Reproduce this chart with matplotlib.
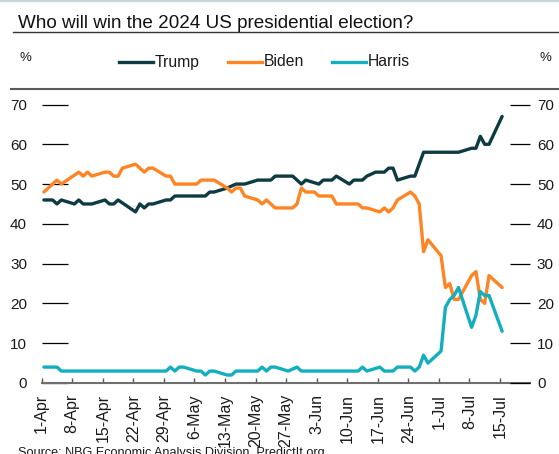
import matplotlib
matplotlib.use("Agg")
import matplotlib.pyplot as plt
from matplotlib.lines import Line2D
import pandas as pd

plt.rcParams['font.family'] = ['Liberation Sans', 'DejaVu Sans']

# PredictIt market prices, % chance of winning (2024)
trump_dates = ["1-Apr", "3-Apr", "4-Apr", "5-Apr", "8-Apr", "9-Apr", "10-Apr", "12-Apr",
               "15-Apr", "16-Apr", "17-Apr", "18-Apr", "22-Apr", "23-Apr", "24-Apr", "25-Apr",
               "26-Apr", "29-Apr", "30-Apr", "1-May", "8-May", "9-May", "10-May", "13-May",
               "15-May", "17-May", "20-May", "23-May", "24-May", "28-May", "30-May", "31-May",
               "3-Jun", "4-Jun", "6-Jun", "7-Jun", "10-Jun", "11-Jun", "13-Jun", "14-Jun",
               "16-Jun", "18-Jun", "19-Jun", "20-Jun", "21-Jun", "24-Jun", "25-Jun", "27-Jun",
               "5-Jul", "8-Jul", "9-Jul", "10-Jul", "11-Jul", "12-Jul", "15-Jul"]
trump_values = [46, 46, 45, 46, 45, 46, 45, 45,
                46, 45, 45, 46, 43, 45, 44, 45,
                45, 46, 46, 47, 47, 48, 48, 49,
                50, 50, 51, 51, 52, 52, 50, 51,
                50, 51, 51, 52, 50, 51, 51, 52,
                53, 53, 54, 54, 51, 52, 52, 58,
                58, 59, 59, 62, 60, 60, 67]

biden_dates = ["1-Apr", "4-Apr", "5-Apr", "9-Apr", "10-Apr", "11-Apr", "12-Apr", "15-Apr",
               "16-Apr", "17-Apr", "18-Apr", "19-Apr", "22-Apr", "24-Apr", "25-Apr", "26-Apr",
               "29-Apr", "30-Apr", "1-May", "6-May", "7-May", "10-May", "13-May", "14-May",
               "15-May", "16-May", "17-May", "20-May", "21-May", "22-May", "24-May", "28-May",
               "29-May", "30-May", "31-May", "2-Jun", "3-Jun", "6-Jun", "7-Jun", "12-Jun",
               "13-Jun", "14-Jun", "17-Jun", "18-Jun", "19-Jun", "20-Jun", "21-Jun", "24-Jun",
               "25-Jun", "26-Jun", "27-Jun", "28-Jun", "1-Jul", "2-Jul", "3-Jul", "4-Jul",
               "5-Jul", "8-Jul", "9-Jul", "10-Jul", "11-Jul", "12-Jul", "15-Jul"]
biden_values = [48, 51, 50, 53, 52, 53, 52, 53,
                53, 52, 52, 54, 55, 53, 54, 54,
                52, 52, 50, 50, 51, 51, 49, 48,
                49, 49, 47, 46, 45, 46, 44, 44,
                45, 49, 48, 48, 47, 47, 45, 45,
                44, 44, 43, 44, 43, 44, 46, 48,
                47, 45, 33, 36, 32, 24, 25, 21,
                21, 27, 28, 21, 20, 27, 24]

harris_dates = ["1-Apr", "4-Apr", "5-Apr", "29-Apr", "30-Apr", "1-May", "2-May", "3-May",
                "6-May", "7-May", "8-May", "9-May", "10-May", "13-May", "14-May", "15-May",
                "20-May", "21-May", "22-May", "23-May", "24-May", "27-May", "29-May", "30-May",
                "12-Jun", "13-Jun", "14-Jun", "17-Jun", "18-Jun", "20-Jun", "21-Jun", "24-Jun",
                "25-Jun", "26-Jun", "27-Jun", "28-Jun", "1-Jul", "2-Jul", "3-Jul", "4-Jul",
                "5-Jul", "8-Jul", "9-Jul", "10-Jul", "11-Jul", "12-Jul", "15-Jul"]
harris_values = [4, 4, 3, 3, 4, 3, 4, 4,
                 3, 3, 2, 3, 3, 2, 2, 3,
                 3, 4, 3, 4, 4, 3, 4, 3,
                 3, 4, 3, 4, 3, 3, 4, 4,
                 3, 4, 7, 5, 8, 19, 21, 22,
                 24, 14, 17, 23, 22, 22, 13]

tick_labels = ["1-Apr", "8-Apr", "15-Apr", "22-Apr", "29-Apr", "6-May", "13-May", "20-May",
               "27-May", "3-Jun", "10-Jun", "17-Jun", "24-Jun", "1-Jul", "8-Jul", "15-Jul"]
y_ticks = [0, 10, 20, 30, 40, 50, 60, 70]

series = [("Trump", trump_dates, trump_values, "#0e3b42"),
          ("Biden", biden_dates, biden_values, "#ff8424"),
          ("Harris", harris_dates, harris_values, "#13aebf")]

START = pd.Timestamp("2024-04-01")


def day_offset(labels):
    d = pd.to_datetime([s + "-2024" for s in labels], format="%d-%b-%Y")
    return [(x - START).days for x in d]


W, H = 559, 454
fig = plt.figure(figsize=(W / 100, H / 100), dpi=100)


def fx(px):
    return px / W


def fy(py):
    return 1 - py / H


# plot area
left_px, right_px, bottom_px, top_px = 41.7, 530.0, 383.0, 104.5
ax = fig.add_axes([fx(left_px), fy(bottom_px), fx(right_px - left_px), (bottom_px - top_px) / H])
day_px = 30.55 / 7
xmin = -0.5
xmax = xmin + (right_px - left_px) / day_px
ax.set_xlim(xmin, xmax)
ax.set_ylim(0, 70)

for name, dates, vals, col in series:
    ax.plot(day_offset(dates), vals, color=col, lw=2.4, solid_joinstyle="round",
            solid_capstyle="round", label=name, clip_on=False, zorder=3)

# axes styling
for s in ("left", "right", "top"):
    ax.spines[s].set_visible(False)
ax.spines["bottom"].set_color("#6f6f6f")
ax.spines["bottom"].set_linewidth(1.5)

tick_pos = [d - 0.5 for d in day_offset(tick_labels)]
ax.set_xticks(tick_pos)
ax.set_xticklabels(tick_labels, rotation=90, fontsize=11.5, color="#1a1a1a")
ax.tick_params(axis="x", direction="in", length=3.8, width=1.0, color="#555555", pad=8)

# left value axis: long inward ticks
ax.set_yticks(y_ticks)
ax.set_yticklabels([str(v) for v in y_ticks], fontsize=11, color="#1a1a1a")
ax.tick_params(axis="y", left=True, right=False, direction="in", length=18.5,
               width=0.9, color="#000000", pad=10.5)

# right value axis: mirrored scale with shorter ticks
ax2 = ax.twinx()
ax2.set_ylim(ax.get_ylim())
ax2.set_yticks(y_ticks)
ax2.set_yticklabels([str(v) for v in y_ticks], fontsize=11, color="#1a1a1a")
ax2.tick_params(axis="y", left=False, right=True, direction="in", length=14.4,
                width=0.9, color="#000000", pad=5)
for s in ("left", "right", "top", "bottom"):
    ax2.spines[s].set_visible(False)

# header: top border, title, underline
fig.add_artist(Line2D([0, 1], [fy(0.6), fy(0.6)], color="#c6d4db", lw=1.6))
fig.text(fx(18.5), fy(27.5), "Who will win the 2024 US presidential election?", fontsize=13.6,
         color="#111111", va="baseline", ha="left")
fig.add_artist(Line2D([fx(12.5), 1], [fy(31.5), fy(31.5)], color="#333333", lw=1.0))

# unit labels
fig.text(fx(19.5), fy(58), "%", fontsize=9.5, color="#1a1a1a", va="center", ha="left")
fig.text(fx(540), fy(58), "%", fontsize=9.5, color="#1a1a1a", va="center", ha="left")

# legend keys
key_x = [119, 228, 332]
for (name, _, _, col), kx in zip(series, key_x):
    fig.add_artist(Line2D([fx(kx), fx(kx + 34)], [fy(62), fy(62)], color=col, lw=2.4))
    fig.text(fx(kx + 35.5), fy(62), name, fontsize=11.3, color="#1a1a1a", va="center", ha="left")

# rule under the legend
fig.add_artist(Line2D([fx(10.7), 1], [fy(88.5), fy(88.5)], color="#5a5a5a", lw=1.5))

# source note
fig.text(fx(18), fy(456), "Source: NBG Economic Analysis Division, PredictIt.org", fontsize=9.1,
         color="#1a1a1a", va="baseline", ha="left")

fig.savefig("out.png", dpi=100)
